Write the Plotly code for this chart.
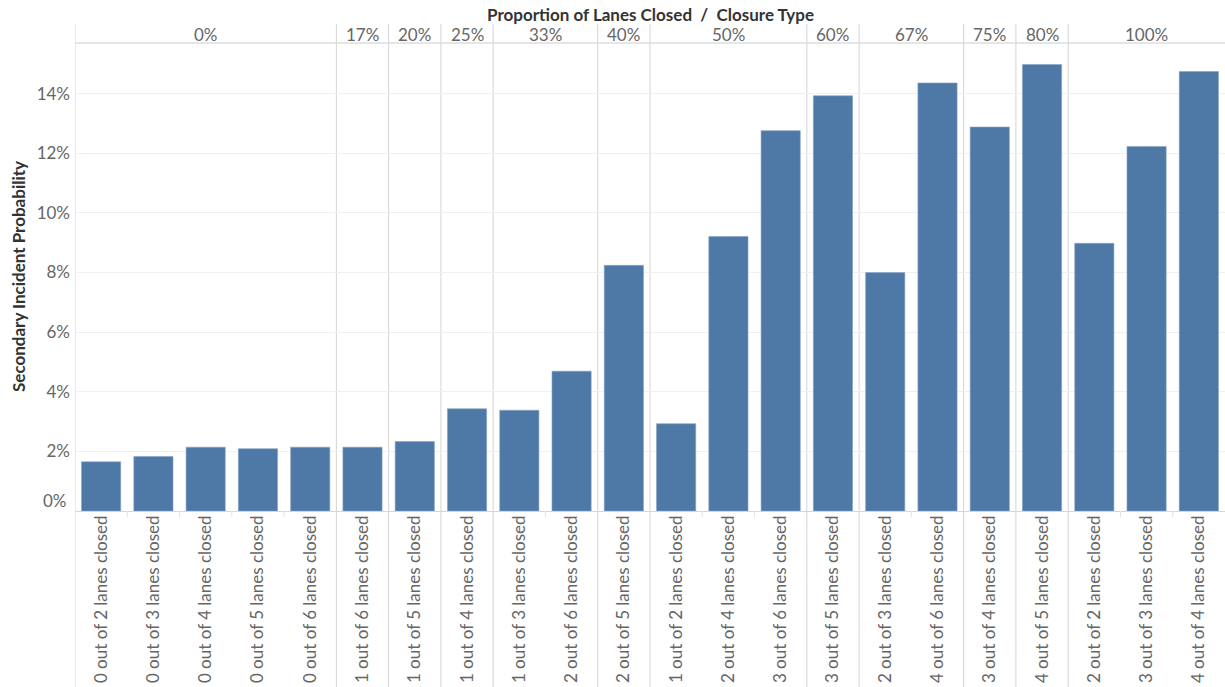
import plotly.graph_objects as go

# ---- data ----
categories = [
    "0 out of 2 lanes closed", "0 out of 3 lanes closed", "0 out of 4 lanes closed",
    "0 out of 5 lanes closed", "0 out of 6 lanes closed",
    "1 out of 6 lanes closed",
    "1 out of 5 lanes closed",
    "1 out of 4 lanes closed",
    "1 out of 3 lanes closed", "2 out of 6 lanes closed",
    "2 out of 5 lanes closed",
    "1 out of 2 lanes closed", "2 out of 4 lanes closed", "3 out of 6 lanes closed",
    "3 out of 5 lanes closed",
    "2 out of 3 lanes closed", "4 out of 6 lanes closed",
    "3 out of 4 lanes closed",
    "4 out of 5 lanes closed",
    "2 out of 2 lanes closed", "3 out of 3 lanes closed", "4 out of 4 lanes closed",
]
proportion = [
    "0%", "0%", "0%", "0%", "0%",
    "17%", "20%", "25%", "33%", "33%", "40%",
    "50%", "50%", "50%", "60%", "67%", "67%", "75%", "80%",
    "100%", "100%", "100%",
]
probability = [
    1.65, 1.83, 2.14, 2.09, 2.14,
    2.14, 2.33, 3.43, 3.38, 4.69, 8.24,
    2.93, 9.21, 12.76, 13.93, 8.00, 14.36, 12.88, 14.98,
    8.98, 12.23, 14.74,
]
y_ticks = [2, 4, 6, 8, 10, 12, 14]
y_tick_text = ["2%", "4%", "6%", "8%", "10%", "12%", "14%"]
y_max = 15.7

# ---- styles ----
FONT = "Lato"
FS = 17
BAR = "#4e79a7"
GRAY_TXT = "#666666"
DARK_TXT = "#333333"
SEP = "#d3d3d3"
GRID = "#f0f0f0"

W, H = 1225, 687
ML, MR, MT, MB = 75, 0, 43, 176
plot_h = H - MT - MB

def py(pix):
    """pixel y (from top) -> paper y"""
    return (H - MB - pix) / plot_h

fig = go.Figure()
fig.add_trace(go.Bar(
    x=categories, y=probability,
    marker=dict(color=BAR, line=dict(color="#86a3c4", width=0.6)),
    width=0.75,
    hoverinfo="x+y",
))

# group runs
groups = []
start = 0
for i in range(1, len(proportion) + 1):
    if i == len(proportion) or proportion[i] != proportion[start]:
        groups.append((proportion[start], start, i - 1))
        start = i

shapes = []
group_bounds = set([g[1] - 0.5 for g in groups])
for b in sorted(group_bounds):
    shapes.append(dict(type="line", xref="x", yref="paper", x0=b, x1=b,
                       y0=py(H), y1=py(24), line=dict(color=SEP, width=1), layer="below"))
for i in range(1, len(categories)):
    b = i - 0.5
    if b not in group_bounds:
        shapes.append(dict(type="line", xref="x", yref="paper", x0=b, x1=b,
                           y0=py(H - MB + 6), y1=0, line=dict(color="#e4e4e4", width=1)))
shapes.append(dict(type="line", xref="paper", yref="paper", x0=0, x1=1, y0=1, y1=1,
                   line=dict(color="#dcdcdc", width=1.5)))

annotations = []
for label, a, b in groups:
    annotations.append(dict(x=(a + b) / 2, y=py(34), xref="x", yref="paper",
                            text=label, showarrow=False, xanchor="center", yanchor="middle",
                            font=dict(family=FONT, size=FS, color=GRAY_TXT)))
annotations.append(dict(x=0.5, y=py(15), xref="paper", yref="paper",
                        xanchor="center", yanchor="middle",
                        text="<b>Proportion of Lanes Closed  /  Closure Type</b>", showarrow=False,
                        font=dict(family=FONT, size=FS, color=DARK_TXT)))
annotations.append(dict(x=(18 - ML) / (W - ML - MR), y=0.5, xref="paper", yref="paper",
                        xanchor="center", yanchor="middle",
                        text="<b>Secondary Incident Probability</b>", showarrow=False,
                        textangle=-90,
                        font=dict(family=FONT, size=FS, color=DARK_TXT)))
annotations.append(dict(x=0, y=0, xref="paper", yref="y", text="0%", showarrow=False,
                        xanchor="right", yanchor="middle", xshift=-6, yshift=11,
                        font=dict(family=FONT, size=FS, color=GRAY_TXT)))

fig.update_layout(
    width=W, height=H,
    margin=dict(l=ML, r=MR, t=MT, b=MB, pad=0),
    plot_bgcolor="white", paper_bgcolor="white",
    showlegend=False,
    shapes=shapes,
    annotations=annotations,
    font=dict(family=FONT, color=GRAY_TXT),
)
fig.update_xaxes(
    type="category", range=[-0.5, len(categories) - 0.5],
    tickangle=-90, tickfont=dict(family=FONT, size=FS, color=GRAY_TXT),
    showgrid=False, ticks="", showline=False, zeroline=False,
)
fig.update_yaxes(
    range=[0, y_max], tickvals=y_ticks, ticktext=y_tick_text,
    tickfont=dict(family=FONT, size=FS, color=GRAY_TXT),
    showgrid=True, gridcolor=GRID, gridwidth=1,
    zeroline=True, zerolinecolor="#d6d6d6", zerolinewidth=1,
    showline=False, ticks="", ticklabelstandoff=4,
)

fig.write_html("out.html",
               config={"displayModeBar": False},
               post_script="document.body.style.margin='0';document.body.style.overflow='hidden';")
